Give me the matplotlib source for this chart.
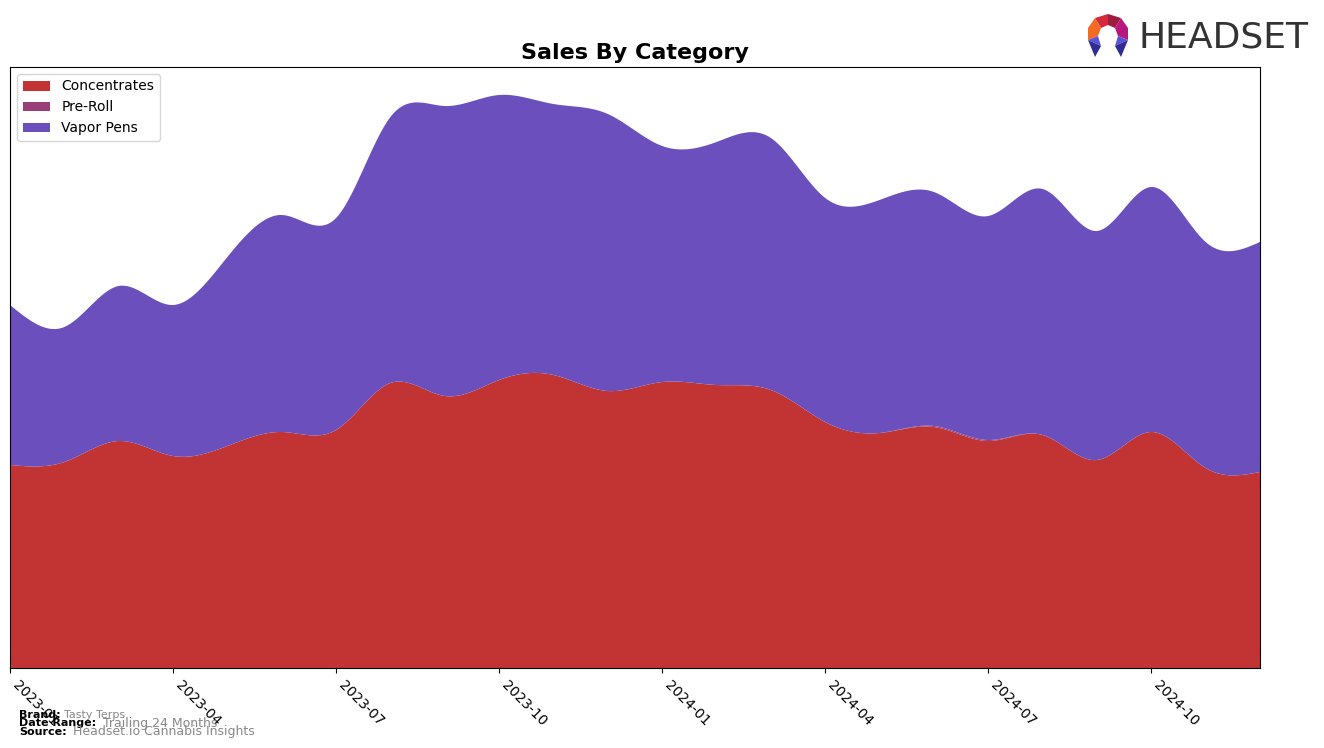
"""
Sales by category: smoothed stacked area chart.
"""
import numpy as np
import matplotlib
matplotlib.use('Agg')
import matplotlib.pyplot as plt
from matplotlib.patches import Polygon

months = ['2023-01', '2023-02', '2023-03', '2023-04', '2023-05', '2023-06',
          '2023-07', '2023-08', '2023-09', '2023-10', '2023-11', '2023-12',
          '2024-01', '2024-02', '2024-03', '2024-04', '2024-05', '2024-06',
          '2024-07', '2024-08', '2024-09', '2024-10', '2024-11', '2024-12']
concentrates = [203, 206, 227, 212, 222, 236, 238, 285, 272, 288, 293, 277,
                286, 283, 278, 246, 235, 241, 227, 233, 208, 236, 200, 196]
pre_roll = [0, 0, 0, 0, 0, 0, 0, 0, 0, 0, 0, 0,
            0, 0, 0, 0, 0, 1, 1, 0, 0, 0, 0, 0]
totals = [363, 341, 382, 363, 411, 453, 450, 551, 562, 573, 564, 554,
          522, 526, 530, 470, 468, 476, 452, 479, 437, 481, 426, 426]
vapor_pens = [t - c - p for t, c, p in zip(totals, concentrates, pre_roll)]

categories = ['Concentrates', 'Pre-Roll', 'Vapor Pens']
colors = ['#c13433', '#983f78', '#6b4fbd']
tick_months = ['2023-01', '2023-04', '2023-07', '2023-10',
               '2024-01', '2024-04', '2024-07', '2024-10']


def natural_spline(x, y, xs):
    x = np.asarray(x, float)
    y = np.asarray(y, float)
    n = len(x)
    h = np.diff(x)
    A = np.zeros((n, n))
    b = np.zeros(n)
    A[0, 0] = A[-1, -1] = 1
    for i in range(1, n - 1):
        A[i, i - 1] = h[i - 1]
        A[i, i] = 2 * (h[i - 1] + h[i])
        A[i, i + 1] = h[i]
        b[i] = 6 * ((y[i + 1] - y[i]) / h[i] - (y[i] - y[i - 1]) / h[i - 1])
    M = np.linalg.solve(A, b)
    idx = np.clip(np.searchsorted(x, xs) - 1, 0, n - 2)
    x0, x1 = x[idx], x[idx + 1]
    hh = x1 - x0
    t0, t1 = x1 - xs, xs - x0
    return (M[idx] * t0**3 / (6 * hh) + M[idx + 1] * t1**3 / (6 * hh)
            + (y[idx] / hh - M[idx] * hh / 6) * t0
            + (y[idx + 1] / hh - M[idx + 1] * hh / 6) * t1)


x = np.arange(len(months))
xs = np.linspace(0, len(months) - 1, 800)
smooth = [np.clip(natural_spline(x, s, xs), 0, None)
          for s in (concentrates, pre_roll, vapor_pens)]

fig = plt.figure(figsize=(13.24, 7.48), dpi=100)
ax = fig.add_axes([10 / 1324, 1 - 668 / 748, 1250 / 1324, 601 / 748])
ax.stackplot(xs, *smooth, labels=categories, colors=colors)
ax.set_xlim(0, len(months) - 1)
ax.set_ylim(0, 601)
ax.set_yticks([])
ax.set_xticks([months.index(m) for m in tick_months])
ax.set_xticklabels(tick_months, rotation=-45, ha='left', va='top', fontsize=10)
ax.legend(loc='upper left', fontsize=10)

fig.text(635 / 1324, 1 - 53 / 748, 'Sales By Category', ha='center', va='center',
         fontsize=16, fontweight='bold')

# footer
fig.text(19 / 1324, 1 - 715 / 748, 'Brand:', fontsize=8, fontweight='bold', va='center')
fig.text(64 / 1324, 1 - 715 / 748, 'Tasty Terps', fontsize=8, color='#888888', va='center')
fig.text(19 / 1324, 1 - 723 / 748, 'Date Range:', fontsize=8, fontweight='bold', va='center')
fig.text(103 / 1324, 1 - 723 / 748, 'Trailing 24 Months', fontsize=9, color='#888888', va='center')
fig.text(19 / 1324, 1 - 732 / 748, 'Source:', fontsize=8, fontweight='bold', va='center')
fig.text(73 / 1324, 1 - 732 / 748, 'Headset.io Cannabis Insights', fontsize=9, color='#888888', va='center')

# logo
fig.text(1138 / 1324, 1 - 37 / 748, 'HEADSET', fontsize=26, color='#333333', va='center')
lax = fig.add_axes([1084 / 1324, 1 - 60 / 748, 50 / 1324, 48 / 748])
lax.set_xlim(0, 50)
lax.set_ylim(0, 48)
lax.axis('off')
pieces = [
    ([(11, 42), (24, 46), (24, 35), (17, 32)], '#d42a3c'),
    ([(24, 46), (37, 42), (31, 32), (24, 35)], '#9e1c3e'),
    ([(4, 32), (11, 42), (17, 32), (14, 24), (4, 20)], '#f26a23'),
    ([(44, 32), (37, 42), (31, 32), (34, 24), (44, 20)], '#b8177f'),
    ([(4, 20), (14, 24), (17, 14)], '#5a55d6'),
    ([(4, 20), (17, 14), (11, 3)], '#2f2d92'),
    ([(44, 20), (34, 24), (31, 14)], '#5a55d6'),
    ([(44, 20), (31, 14), (37, 3)], '#2f2d92'),
]
for pts, c in pieces:
    lax.add_patch(Polygon(pts, closed=True, color=c, lw=0))

plt.savefig('out.png', dpi=100)
